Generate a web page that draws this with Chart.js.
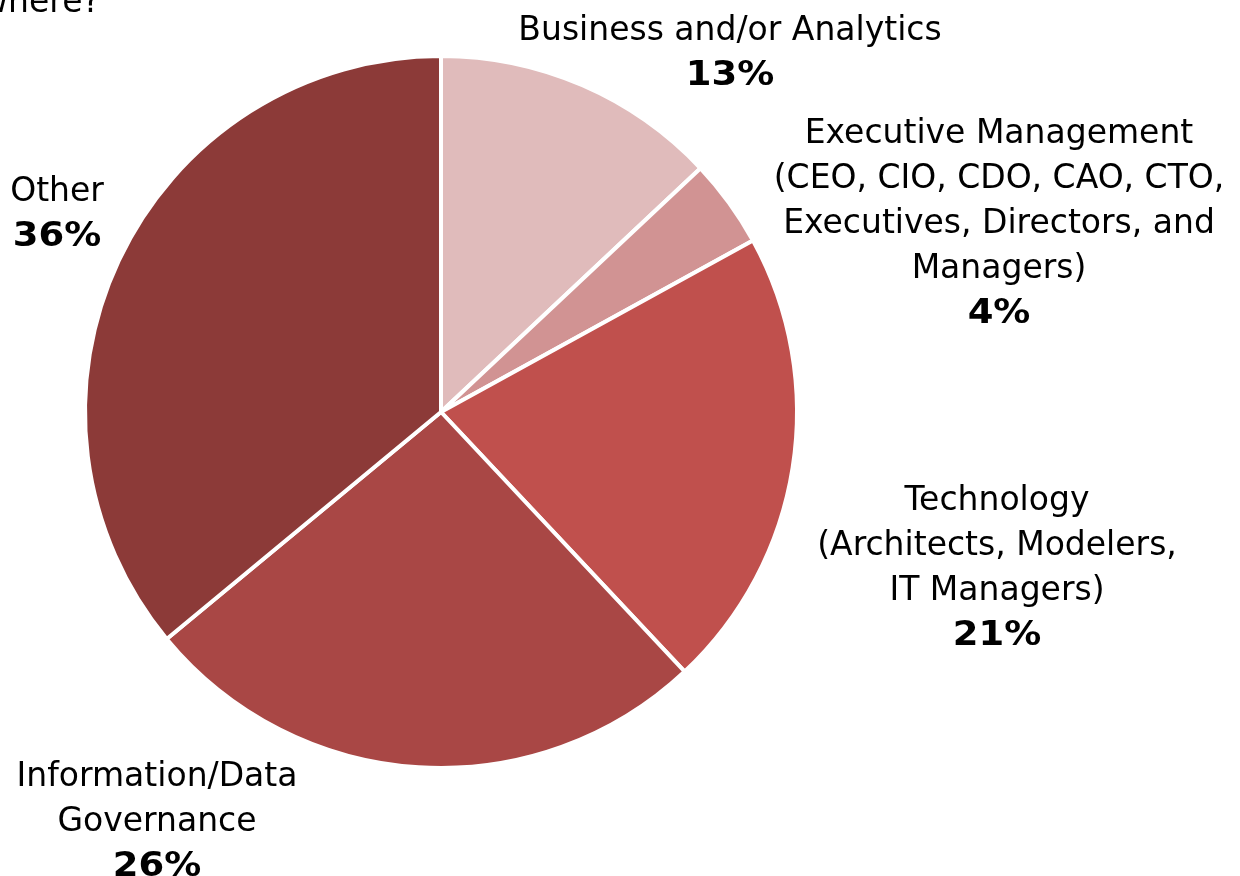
<!DOCTYPE html>
<html>
<head>
<meta charset="utf-8">
<script src="https://cdn.jsdelivr.net/npm/chart.js@4/dist/chart.umd.min.js"></script>
<style>
html,body{margin:0;padding:0;background:#fff;}
#wrap{width:1240px;height:876px;position:relative;}
</style>
</head>
<body>
<div id="wrap"><canvas id="c" width="1240" height="876"></canvas></div>
<script>
const categories = [
  ["Business and/or Analytics"],
  ["Executive Management", "(CEO, CIO, CDO, CAO, CTO,", "Executives, Directors, and", "Managers)"],
  ["Technology", "(Architects, Modelers,", "IT Managers)"],
  ["Information/Data", "Governance"],
  ["Other"]
];
const shares = [13, 4, 21, 26, 36];
const sliceColors = ["#E0BBBB", "#D19393", "#C0504D", "#A94745", "#8C3A38"];
const partialTitle = "where?";

// label placement (layout only)
const labelPos = [
  {x: 730, y: 40},
  {x: 999, y: 143},
  {x: 997, y: 510},
  {x: 157, y: 786},
  {x: 57,  y: 201}
];
const LINE_H = 45;
const FONT = '"DejaVu Sans", sans-serif';
const FSIZE = 33;
const BOLD_STRETCH = 1.12;

const labelPlugin = {
  id: 'sliceLabels',
  afterDraw(chart) {
    const ctx = chart.ctx;
    const data = chart.data.datasets[0].data;
    const total = data.reduce((a, b) => a + b, 0);
    ctx.save();
    ctx.fillStyle = '#000';
    ctx.textAlign = 'center';
    ctx.textBaseline = 'alphabetic';
    chart.data.labels.forEach((lines, i) => {
      const p = labelPos[i];
      ctx.font = `normal ${FSIZE}px ${FONT}`;
      lines.forEach((t, k) => ctx.fillText(t, p.x, p.y + k * LINE_H));
      ctx.font = `bold ${FSIZE}px ${FONT}`;
      const pct = Math.round(data[i] / total * 100) + '%';
      ctx.save();
      ctx.translate(p.x, p.y + lines.length * LINE_H);
      ctx.scale(BOLD_STRETCH, 1);
      ctx.fillText(pct, 0, 0);
      ctx.restore();
    });
    // partially visible title at the top-left
    ctx.textAlign = 'right';
    ctx.font = `normal ${FSIZE}px ${FONT}`;
    ctx.fillText(partialTitle, 100, 12);
    ctx.restore();
  }
};

new Chart(document.getElementById('c'), {
  type: 'pie',
  data: {
    labels: categories,
    datasets: [{
      data: shares,
      backgroundColor: sliceColors,
      borderColor: '#ffffff',
      borderWidth: 4
    }]
  },
  options: {
    responsive: false,
    animation: false,
    layout: {padding: {left: 83, top: 54, right: 441, bottom: 106}},
    plugins: {
      legend: {display: false},
      tooltip: {enabled: false},
      title: {display: false}
    }
  },
  plugins: [labelPlugin]
});
</script>
</body>
</html>
